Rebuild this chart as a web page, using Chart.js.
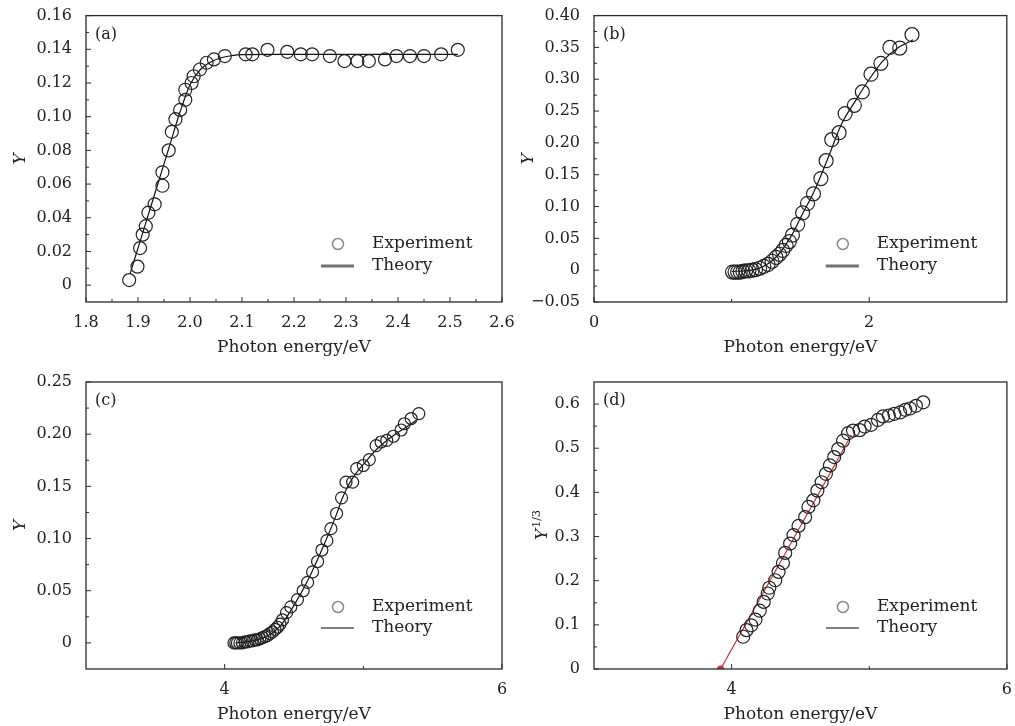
<!DOCTYPE html>
<html lang="en">
<head>
    <meta charset="UTF-8">
    <title>Photon energy panels</title>
    <script src="https://cdn.jsdelivr.net/npm/chart.js"></script>
    <style>
        body { margin: 0; background: #fff; }
        .page { position: relative; width: 1015px; height: 726px; }
        .layer { position: absolute; left: 0; top: 0; width: 1015px; height: 726px; }
    </style>
</head>
<body>
<div class="page">
    <div class="layer"><canvas id="chartA"></canvas></div>
    <div class="layer"><canvas id="chartB"></canvas></div>
    <div class="layer"><canvas id="chartC"></canvas></div>
    <div class="layer"><canvas id="chartD"></canvas></div>
</div>
<script>
// ---- panel (a) ----
const aExpX = [1.883, 1.899, 1.904, 1.909, 1.915, 1.920, 1.932, 1.947, 1.947, 1.959, 1.965, 1.972, 1.981, 1.991, 1.991,
    2.003, 2.007, 2.019, 2.032, 2.046, 2.067, 2.107, 2.120, 2.149, 2.187, 2.213, 2.235, 2.269, 2.297, 2.322, 2.344,
    2.375, 2.397, 2.423, 2.450, 2.483, 2.515];
const aExpY = [0.003, 0.011, 0.022, 0.030, 0.035, 0.043, 0.048, 0.059, 0.067, 0.080, 0.091, 0.0985, 0.104, 0.110, 0.116,
    0.120, 0.124, 0.128, 0.132, 0.134, 0.136, 0.137, 0.137, 0.1397, 0.1385, 0.137, 0.137, 0.136, 0.133, 0.133, 0.133,
    0.134, 0.136, 0.136, 0.136, 0.137, 0.1397];
const aFitX = [1.885, 1.90, 1.92, 1.94, 1.96, 1.98, 2.00, 2.02, 2.04, 2.06, 2.08, 2.10, 2.15, 2.20, 2.30, 2.40, 2.515];
const aFitY = [0.007, 0.022, 0.042, 0.062, 0.082, 0.102, 0.119, 0.128, 0.1325, 0.135, 0.1362, 0.1368, 0.137, 0.137, 0.137, 0.137, 0.137];
const aXTicks = [1.8, 1.9, 2.0, 2.1, 2.2, 2.3, 2.4, 2.5, 2.6];
const aXMinor = [1.85, 1.95, 2.05, 2.15, 2.25, 2.35, 2.45, 2.55];
const aYTicks = [0, 0.02, 0.04, 0.06, 0.08, 0.10, 0.12, 0.14, 0.16];
const aYMinor = [0.01, 0.03, 0.05, 0.07, 0.09, 0.11, 0.13, 0.15];

// ---- panel (b) ----
const bExpX = [1.007, 1.025, 1.044, 1.063, 1.082, 1.102, 1.126, 1.150, 1.174, 1.203, 1.234, 1.265, 1.294, 1.323, 1.348,
    1.372, 1.396, 1.420, 1.442, 1.480, 1.516, 1.552, 1.595, 1.649, 1.687, 1.728, 1.781, 1.825, 1.892, 1.950, 2.013,
    2.085, 2.150, 2.222, 2.311];
const bExpY = [-0.003, -0.003, -0.003, -0.003, -0.002, -0.001, -0.001, 0.000, 0.001, 0.003, 0.006, 0.009, 0.014, 0.020, 0.025,
    0.031, 0.039, 0.045, 0.055, 0.072, 0.090, 0.105, 0.120, 0.144, 0.172, 0.205, 0.216, 0.246, 0.259, 0.280, 0.308,
    0.325, 0.350, 0.349, 0.370];
const bFitX = [1.00, 1.10, 1.15, 1.20, 1.25, 1.30, 1.35, 1.40, 1.45, 1.50, 1.60, 1.70, 1.80, 1.90, 2.00, 2.10, 2.20, 2.32];
const bFitY = [-0.002, -0.001, 0.000, 0.003, 0.008, 0.016, 0.027, 0.042, 0.060, 0.082, 0.124, 0.176, 0.230, 0.266, 0.300, 0.329, 0.348, 0.362];
const bXTicks = [0, 2];
const bXMinor = [1];
const bYTicks = [-0.05, 0, 0.05, 0.10, 0.15, 0.20, 0.25, 0.30, 0.35, 0.40];
const bYMinor = [-0.025, 0.025, 0.075, 0.125, 0.175, 0.225, 0.275, 0.325, 0.375];

// ---- panel (c) ----
const cExpX = [4.067, 4.080, 4.092, 4.110, 4.128, 4.146, 4.164, 4.182, 4.200, 4.218, 4.236, 4.254, 4.272, 4.290, 4.308,
    4.326, 4.345, 4.363, 4.381, 4.399, 4.417, 4.446, 4.477, 4.525, 4.566, 4.598, 4.634, 4.670, 4.701, 4.737, 4.766,
    4.807, 4.843, 4.875, 4.923, 4.952, 5.000, 5.043, 5.092, 5.128, 5.169, 5.217, 5.272, 5.296, 5.345, 5.400];
const cExpY = [0.000, 0.000, 0.000, 0.000, 0.000, 0.001, 0.001, 0.002, 0.002, 0.003, 0.003, 0.004, 0.005, 0.006, 0.007,
    0.009, 0.0105, 0.013, 0.015, 0.018, 0.022, 0.029, 0.0345, 0.0415, 0.050, 0.058, 0.068, 0.078, 0.089, 0.098, 0.1095,
    0.124, 0.139, 0.154, 0.154, 0.167, 0.170, 0.1756, 0.189, 0.1925, 0.194, 0.198, 0.204, 0.210, 0.215, 0.2197];
const cFitX = [4.08, 4.2, 4.3, 4.4, 4.5, 4.6, 4.7, 4.8, 4.85, 4.9, 4.95, 5.0, 5.1, 5.2, 5.3, 5.38];
const cFitY = [0.000, 0.002, 0.006, 0.016, 0.036, 0.060, 0.089, 0.121, 0.139, 0.153, 0.163, 0.171, 0.186, 0.197, 0.206, 0.213];
const cXTicks = [4, 6];
const cXMinor = [5];
const cYTicks = [0, 0.05, 0.10, 0.15, 0.20, 0.25];
const cYMinor = [0.025, 0.075, 0.125, 0.175, 0.225];

// ---- panel (d) ----
const dExpX = [4.084, 4.108, 4.142, 4.173, 4.204, 4.233, 4.262, 4.274, 4.317, 4.341, 4.373, 4.389, 4.425, 4.450, 4.486,
    4.534, 4.558, 4.594, 4.623, 4.654, 4.685, 4.714, 4.745, 4.774, 4.810, 4.846, 4.882, 4.930, 4.966, 5.014, 5.063,
    5.099, 5.142, 5.183, 5.224, 5.262, 5.296, 5.339, 5.392];
const dExpY = [0.073, 0.088, 0.099, 0.112, 0.132, 0.152, 0.171, 0.184, 0.201, 0.220, 0.240, 0.263, 0.284, 0.303, 0.324,
    0.344, 0.367, 0.382, 0.404, 0.423, 0.442, 0.461, 0.480, 0.498, 0.517, 0.534, 0.540, 0.541, 0.549, 0.553, 0.564,
    0.572, 0.574, 0.578, 0.581, 0.587, 0.590, 0.596, 0.604];
const dFitX = [3.92, 4.87];
const dFitY = [0, 0.53];
const dXTicks = [4, 6];
const dXMinor = [5];
const dYTicks = [0, 0.1, 0.2, 0.3, 0.4, 0.5, 0.6];
const dYMinor = [0.05, 0.15, 0.25, 0.35, 0.45, 0.55];

const SERIF = '"DejaVu Serif", "Liberation Serif", serif';
const INK = '#222';

function pts(xs, ys) {
    return xs.map((x, i) => ({ x: x, y: ys[i] }));
}

function fmt(dec) {
    return v => Math.abs(v) < 1e-9 ? '0' : (v < 0 ? '\u2212' : '') + Math.abs(v).toFixed(dec);
}

// frame, inside tick marks, panel tag and the little legend
const decor = {
    id: 'decor',
    afterDraw(chart, args, o) {
        const { ctx, chartArea: a } = chart;
        const x = chart.scales.x, y = chart.scales.y;
        ctx.save();
        ctx.strokeStyle = '#2a2a2a';
        ctx.lineWidth = 1.3;
        ctx.strokeRect(a.left, a.top, a.right - a.left, a.bottom - a.top);
        ctx.lineWidth = 1;
        const seg = (x1, y1, x2, y2) => { ctx.beginPath(); ctx.moveTo(x1, y1); ctx.lineTo(x2, y2); ctx.stroke(); };
        o.xMajor.forEach(v => { const p = x.getPixelForValue(v); seg(p, a.bottom, p, a.bottom - 5); });
        o.xMinor.forEach(v => { const p = x.getPixelForValue(v); seg(p, a.bottom, p, a.bottom - 3); });
        o.yMajor.forEach(v => { const p = y.getPixelForValue(v); seg(a.left, p, a.left + 5, p); });
        o.yMinor.forEach(v => { const p = y.getPixelForValue(v); seg(a.left, p, a.left + 3, p); });

        ctx.fillStyle = INK;
        ctx.textBaseline = 'middle';
        ctx.textAlign = 'left';
        ctx.font = '16px ' + SERIF;
        ctx.fillText(o.tag, a.left + 9, a.top + 19);

        // legend
        const y1 = a.bottom - o.legY[0], y2 = a.bottom - o.legY[1];
        ctx.strokeStyle = '#8a8a8a';
        ctx.lineWidth = 1.5;
        ctx.beginPath(); ctx.arc(a.right - 164, y1, 5.5, 0, Math.PI * 2); ctx.stroke();
        ctx.strokeStyle = o.legLine.color;
        ctx.lineWidth = o.legLine.width;
        seg(a.right - 181, y2, a.right - 148, y2);
        ctx.font = '17px ' + SERIF;
        ctx.fillText('Experiment', a.right - 130, y1);
        ctx.fillText('Theory', a.right - 130, y2);

        // Y^{1/3} title for panel (d)
        if (o.supTitle) {
            const s = o.supTitle;
            ctx.translate(s.x, s.y);
            ctx.rotate(-Math.PI / 2);
            ctx.textBaseline = 'alphabetic';
            ctx.font = 'italic 17px ' + SERIF;
            const w1 = ctx.measureText('Y').width;
            ctx.font = '11px ' + SERIF;
            const w2 = ctx.measureText(s.sup).width;
            const x0 = -(w1 + w2 + 1) / 2;
            ctx.font = 'italic 17px ' + SERIF;
            ctx.fillText('Y', x0, 6);
            ctx.font = '11px ' + SERIF;
            ctx.fillText(s.sup, x0 + w1 + 1, -1);
        }
        ctx.restore();
    }
};

function makePanel(id, p) {
    const W = 1015, H = 726;
    const yAxisW = p.box.l - p.yTitleX + 10.2;
    const xAxisH = 56;
    new Chart(document.getElementById(id), {
        type: 'scatter',
        data: {
            datasets: [
                {
                    label: 'Experiment',
                    data: pts(p.expX, p.expY),
                    pointStyle: 'circle',
                    pointRadius: p.radius,
                    pointBorderColor: '#222',
                    pointBackgroundColor: 'rgba(0,0,0,0)',
                    pointBorderWidth: 1.2
                },
                {
                    label: 'Theory',
                    data: pts(p.fitX, p.fitY),
                    showLine: true,
                    borderColor: p.fitColor,
                    borderWidth: 1.2,
                    cubicInterpolationMode: 'monotone',
                    pointRadius: p.fitPointRadius || 0,
                    pointBackgroundColor: p.fitColor,
                    pointBorderColor: p.fitColor
                }
            ]
        },
        options: {
            responsive: true,
            maintainAspectRatio: false,
            animation: false,
            events: [],
            layout: {
                padding: {
                    left: p.box.l - yAxisW,
                    top: p.box.t,
                    right: W - p.box.r,
                    bottom: H - p.box.b - xAxisH
                }
            },
            plugins: {
                legend: { display: false },
                tooltip: { enabled: false },
                decor: {
                    tag: p.tag,
                    xMajor: p.xTicks, xMinor: p.xMinor,
                    yMajor: p.yTicks, yMinor: p.yMinor,
                    legY: p.legY,
                    legLine: p.legLine,
                    supTitle: p.supTitle
                }
            },
            scales: {
                x: {
                    type: 'linear',
                    min: p.xRange[0], max: p.xRange[1],
                    grid: { display: false },
                    border: { display: false },
                    afterBuildTicks: s => { s.ticks = p.xTicks.map(v => ({ value: v })); },
                    afterFit: s => { s.height = xAxisH; },
                    ticks: {
                        padding: 3,
                        maxRotation: 0,
                        autoSkip: false,
                        color: INK,
                        font: { family: SERIF, size: 16 },
                        callback: p.xFmt
                    },
                    title: {
                        display: true,
                        text: 'Photon energy/eV',
                        color: INK,
                        font: { family: SERIF, size: 17 },
                        padding: { top: 0, bottom: 0 }
                    }
                },
                y: {
                    type: 'linear',
                    min: p.yRange[0], max: p.yRange[1],
                    grid: { display: false },
                    border: { display: false },
                    afterBuildTicks: s => { s.ticks = p.yTicks.map(v => ({ value: v })); },
                    afterFit: s => { s.width = yAxisW; },
                    ticks: {
                        padding: 6,
                        autoSkip: false,
                        color: INK,
                        font: { family: SERIF, size: 16 },
                        callback: p.yFmt
                    },
                    title: {
                        display: !p.supTitle,
                        text: 'Y',
                        color: INK,
                        font: { family: SERIF, size: 17, style: 'italic' },
                        padding: { top: 0, bottom: 0 }
                    }
                }
            }
        },
        plugins: [decor]
    });
}

const boldLeg = { color: '#707070', width: 3 };
const thinLeg = { color: '#555', width: 1.5 };

makePanel('chartA', {
    box: { l: 86, t: 15, r: 502, b: 302 }, yTitleX: 21, tag: '(a)',
    xRange: [1.8, 2.6], yRange: [-0.01, 0.16],
    xTicks: aXTicks, xMinor: aXMinor, yTicks: aYTicks, yMinor: aYMinor,
    xFmt: fmt(1), yFmt: fmt(2),
    expX: aExpX, expY: aExpY, fitX: aFitX, fitY: aFitY,
    radius: 6.5, fitColor: '#111', legY: [58, 36], legLine: boldLeg
});

makePanel('chartB', {
    box: { l: 594, t: 15, r: 1010, b: 302 }, yTitleX: 529, tag: '(b)',
    xRange: [0, 3], yRange: [-0.05, 0.40],
    xTicks: bXTicks, xMinor: bXMinor, yTicks: bYTicks, yMinor: bYMinor,
    xFmt: fmt(0), yFmt: fmt(2),
    expX: bExpX, expY: bExpY, fitX: bFitX, fitY: bFitY,
    radius: 7, fitColor: '#111', legY: [58, 36], legLine: boldLeg
});

makePanel('chartC', {
    box: { l: 86, t: 382, r: 502, b: 669 }, yTitleX: 21, tag: '(c)',
    xRange: [3, 6], yRange: [-0.025, 0.25],
    xTicks: cXTicks, xMinor: cXMinor, yTicks: cYTicks, yMinor: cYMinor,
    xFmt: fmt(0), yFmt: fmt(2),
    expX: cExpX, expY: cExpY, fitX: cFitX, fitY: cFitY,
    radius: 6, fitColor: '#111', legY: [62, 41], legLine: thinLeg
});

makePanel('chartD', {
    box: { l: 594, t: 382, r: 1010, b: 669 }, yTitleX: 529, tag: '(d)',
    xRange: [3, 6], yRange: [0, 0.65],
    xTicks: dXTicks, xMinor: dXMinor, yTicks: dYTicks, yMinor: dYMinor,
    xFmt: fmt(0), yFmt: fmt(1),
    expX: dExpX, expY: dExpY, fitX: dFitX, fitY: dFitY,
    radius: 6.5, fitColor: '#c8323c', fitPointRadius: [3, 0],
    legY: [62, 41], legLine: thinLeg,
    supTitle: { x: 541, y: 525, sup: '1/3' }
});
</script>
</body>
</html>
